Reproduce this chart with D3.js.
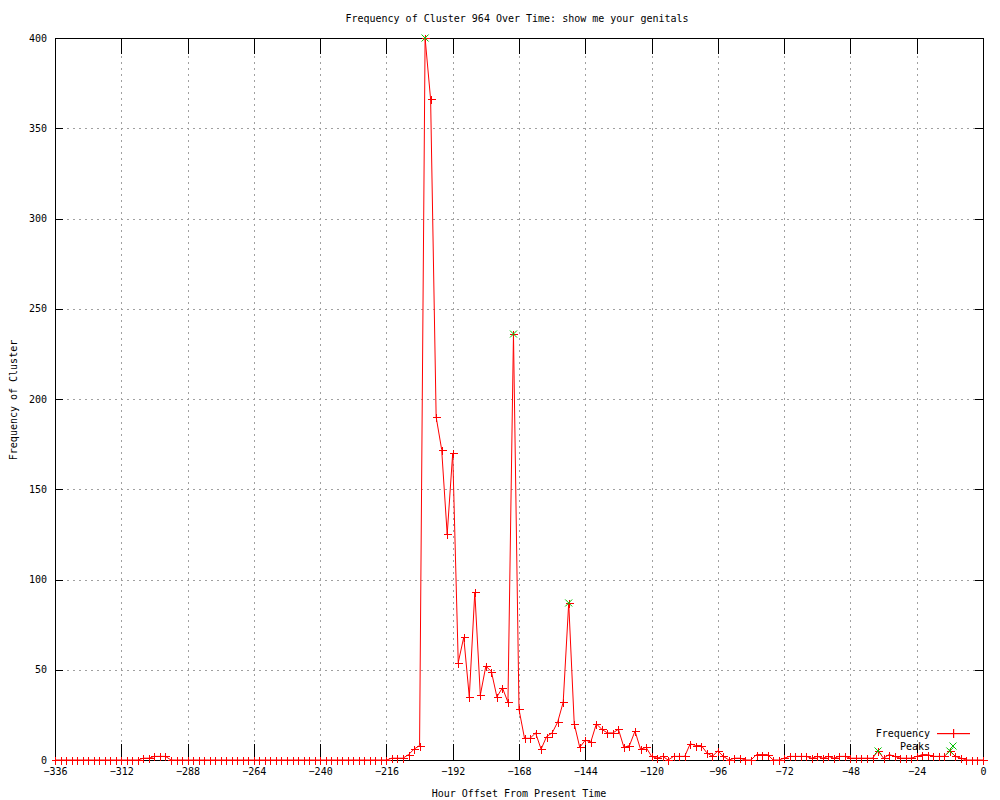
<!DOCTYPE html>
<html>
<head>
<meta charset="utf-8">
<script src="https://cdn.jsdelivr.net/npm/d3@7"></script>
<style>
body { margin: 0; background: #fff; }
text { font-family: "DejaVu Sans Mono", monospace; font-size: 10px; fill: #000; }
</style>
</head>
<body>
<div id="chart"></div>
<script>
// hour offsets (every 2 hours) and cluster frequency at each
var hours = [-336,-334,-332,-330,-328,-326,-324,-322,-320,-318,-316,-314,-312,-310,-308,-306,
    -304,-302,-300,-298,-296,
    -294,-292,-290,-288,-286,-284,-282,-280,-278,-276,-274,-272,-270,-268,-266,-264,-262,-260,-258,-256,
    -254,-252,-250,-248,-246,-244,-242,-240,-238,-236,-234,-232,-230,-228,-226,-224,-222,-220,-218,
    -216,-214,-212,-210,-208,-206,-204,
    -202,-200,-198,-196,-194,-192,-190,-188,-186,-184,-182,-180,-178,-176,-174,-172,-170,-168,-166,-164,
    -162,-160,-158,-156,-154,-152,-150,
    -148,-146,-144,-142,-140,-138,-136,-134,-132,-130,-128,-126,-124,-122,-120,
    -118,-116,-114,-112,-110,-108,-106,-104,-102,-100,-98,-96,-94,-92,-90,-88,-86,-84,-82,-80,-78,-76,-74,-72,
    -70,-68,-66,-64,-62,-60,-58,-56,-54,-52,-50,-48,-46,-44,-42,-40,-38,-36,-34,-32,-30,-28,-26,-24,-22,-20,
    -18,-16,-14,-12,-10,-8,-6,-4,-2,0];

var counts = [0,0,0,0,0,0,0,0,0,0,0,0,0,0,0,0,
    1,1,2,2,2,
    0,0,0,0,0,0,0,0,0,0,0,0,0,0,0,0,0,0,0,0,
    0,0,0,0,0,0,0,0,0,0,0,0,0,0,0,0,0,0,0,
    0,1,1,1,3,6,8,
    400,366,190,172,125,170,54,68,35,93,36,52,49,35,40,32,236,28,12,12,
    15,6,13,15,21,32,87,
    20,7,11,10,20,17,15,15,17,7,8,16,6,7,2,
    1,2,0,2,2,2,9,8,8,4,2,5,2,0,1,1,0,0,3,3,3,0,0,1,
    2,2,2,2,1,2,1,2,1,2,2,1,1,1,1,1,5,1,3,2,1,1,1,2,3,3,
    2,2,2,5,2,1,0,0,0,0];

// detected peaks
var peakHours = [-202, -170, -150, -38, -12];
var peakCounts = [400, 236, 87, 5, 5];

var xTicks = [-336,-312,-288,-264,-240,-216,-192,-168,-144,-120,-96,-72,-48,-24,0];
var yTicks = [0,50,100,150,200,250,300,350,400];

var width = 1000, height = 800;
var plotLeft = 55, plotRight = 983, plotTop = 38, plotBottom = 760;

var svg = d3.select("#chart").append("svg")
    .attr("width", width)
    .attr("height", height);

var x = d3.scaleLinear().domain([-336, 0]).range([plotLeft, plotRight]);
var y = d3.scaleLinear().domain([0, 400]).range([plotBottom, plotTop]);

var data = hours.map(function(h, i) { return {h: h, c: counts[i]}; });
var peaks = peakHours.map(function(h, i) { return {h: h, c: peakCounts[i]}; });

// grid
var grid = svg.append("g").attr("shape-rendering", "crispEdges");
grid.selectAll(".vg")
    .data(xTicks.slice(1, -1))
    .enter().append("line")
    .attr("x1", function(d) { return Math.round(x(d)) + 0.5; })
    .attr("x2", function(d) { return Math.round(x(d)) + 0.5; })
    .attr("y1", plotTop).attr("y2", plotBottom)
    .attr("stroke", "#a0a0a0")
    .attr("stroke-dasharray", "2,4");
grid.selectAll(".hg")
    .data(yTicks.slice(1, -1))
    .enter().append("line")
    .attr("y1", function(d) { return Math.round(y(d)) + 0.5; })
    .attr("y2", function(d) { return Math.round(y(d)) + 0.5; })
    .attr("x1", plotLeft).attr("x2", plotRight)
    .attr("stroke", "#a0a0a0")
    .attr("stroke-dasharray", "2,4");

// axes, ticks pointing inward like gnuplot
var xAxis = d3.axisBottom(x).tickValues(xTicks).tickSize(-16).tickPadding(8).tickFormat(d3.format("d"));
var xTop = d3.axisTop(x).tickValues(xTicks).tickSize(-16).tickFormat("");
var yAxis = d3.axisLeft(y).tickValues(yTicks).tickSize(-8).tickPadding(8);
var yRight = d3.axisRight(y).tickValues(yTicks).tickSize(-8).tickFormat("");

function styleAxis(g) {
    g.select(".domain").remove();
    g.selectAll("line").attr("stroke", "#000");
    g.attr("font-family", null).attr("font-size", null);
}

svg.append("g").attr("transform", "translate(0," + plotBottom + ")")
    .attr("shape-rendering", "crispEdges").call(xAxis).call(styleAxis);
svg.append("g").attr("transform", "translate(0," + plotTop + ")")
    .attr("shape-rendering", "crispEdges").call(xTop).call(styleAxis);
svg.append("g").attr("transform", "translate(" + plotLeft + ",0)")
    .attr("shape-rendering", "crispEdges").call(yAxis).call(styleAxis);
svg.append("g").attr("transform", "translate(" + plotRight + ",0)")
    .attr("shape-rendering", "crispEdges").call(yRight).call(styleAxis);

// border
svg.append("rect")
    .attr("x", plotLeft + 0.5).attr("y", plotTop + 0.5)
    .attr("width", plotRight - plotLeft).attr("height", plotBottom - plotTop)
    .attr("fill", "none").attr("stroke", "#000")
    .attr("shape-rendering", "crispEdges");

// frequency line
var freqLine = d3.line()
    .x(function(d) { return x(d.h); })
    .y(function(d) { return y(d.c); });

svg.append("path")
    .datum(data)
    .attr("d", freqLine)
    .attr("fill", "none")
    .attr("stroke", "#ff0000")
    .attr("stroke-width", 1);

svg.append("g").selectAll(".pt")
    .data(data)
    .enter().append("path")
    .attr("transform", function(d) { return "translate(" + (Math.round(x(d.h)) + 0.5) + "," + (Math.round(y(d.c)) + 0.5) + ")"; })
    .attr("d", "M-4,0H4M0,-4V4")
    .attr("stroke", "#ff0000")
    .attr("shape-rendering", "crispEdges");

// peaks
svg.append("g").selectAll(".pk")
    .data(peaks)
    .enter().append("path")
    .attr("transform", function(d) { return "translate(" + x(d.h) + "," + y(d.c) + ")"; })
    .attr("d", "M-3.5,-3.5L3.5,3.5M-3.5,3.5L3.5,-3.5")
    .attr("stroke", "#00c000");

// titles
svg.append("text")
    .attr("x", 517).attr("y", 22)
    .attr("text-anchor", "middle")
    .text("Frequency of Cluster 964 Over Time: show me your genitals");

svg.append("text")
    .attr("x", 519).attr("y", 797)
    .attr("text-anchor", "middle")
    .text("Hour Offset From Present Time");

svg.append("text")
    .attr("transform", "translate(17,400) rotate(-90)")
    .attr("text-anchor", "middle")
    .text("Frequency of Cluster");

// legend
var leg = svg.append("g");
leg.append("text").attr("x", 930).attr("y", 737).attr("text-anchor", "end").text("Frequency");
leg.append("rect").attr("x", 937).attr("y", 733).attr("width", 33).attr("height", 1.2).attr("fill", "#ff0000");
leg.append("rect").attr("x", 953).attr("y", 729).attr("width", 1.2).attr("height", 9).attr("fill", "#ff0000");
leg.append("text").attr("x", 930).attr("y", 750).attr("text-anchor", "end").text("Peaks");
leg.append("path").attr("transform", "translate(953,746)").attr("d", "M-3.5,-3.5L3.5,3.5M-3.5,3.5L3.5,-3.5")
    .style("stroke", "#00c000");
</script>
</body>
</html>
